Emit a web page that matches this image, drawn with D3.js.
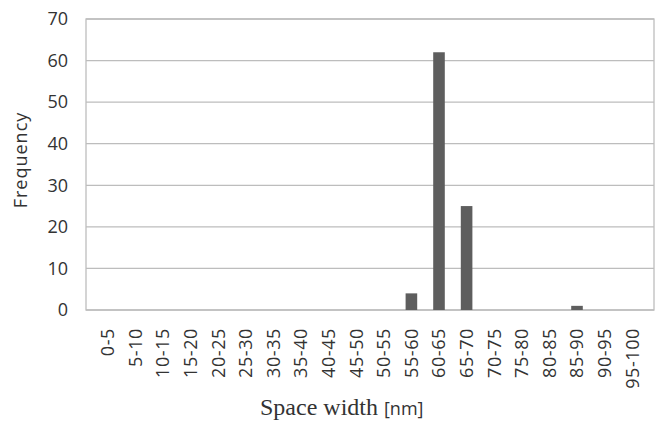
<!DOCTYPE html>
<html>
<head>
    <script src="https://d3js.org/d3.v7.min.js"></script>
    <style>
        body { margin: 0; background: #fff; font-family: "Open Sans", sans-serif; }
        .grid line { stroke: #bdbdbd; stroke-width: 1.3px; }
        .axis text { fill: #333; font-family: "Open Sans", sans-serif; }
        .axis-title { fill: #333; }
    </style>
</head>
<body>
<script>
    // bins and counts
    var bins = ["0-5", "5-10", "10-15", "15-20", "20-25", "25-30", "30-35", "35-40", "40-45", "45-50",
        "50-55", "55-60", "60-65", "65-70", "70-75", "75-80", "80-85", "85-90", "90-95", "95-100"];
    var counts = [0, 0, 0, 0, 0, 0, 0, 0, 0, 0, 0, 4, 62, 25, 0, 0, 0, 1, 0, 0];
    var yTicks = [0, 10, 20, 30, 40, 50, 60, 70];

    var margin = { top: 19, right: 8, bottom: 111, left: 86 },
        width = 662 - margin.left - margin.right,
        height = 421 - margin.top - margin.bottom;

    var svg = d3.select("body").append("svg")
        .attr("width", 662)
        .attr("height", 421);

    var g = svg.append("g")
        .attr("transform", "translate(" + margin.left + "," + margin.top + ")");

    var x = d3.scaleBand().domain(bins).range([0, width]).padding(0.58);
    var y = d3.scaleLinear().domain([0, 70]).range([height, 0]);

    // gridlines
    g.append("g")
        .attr("class", "grid")
        .selectAll("line")
        .data(yTicks)
        .enter().append("line")
        .attr("x1", 0)
        .attr("x2", width)
        .attr("y1", function(d) { return y(d); })
        .attr("y2", function(d) { return y(d); });

    // plot border
    g.append("rect")
        .attr("width", width)
        .attr("height", height)
        .attr("fill", "none")
        .attr("stroke", "#bdbdbd")
        .attr("stroke-width", 1.3);

    // bars
    g.selectAll(".bar")
        .data(counts)
        .enter().append("rect")
        .attr("class", "bar")
        .attr("x", function(d, i) { return x(bins[i]); })
        .attr("width", x.bandwidth())
        .attr("y", function(d) { return y(d); })
        .attr("height", function(d) { return height - y(d); })
        .attr("fill", "#5e5e5e");

    // y axis
    var yAxis = g.append("g")
        .attr("class", "axis")
        .call(d3.axisLeft(y).tickValues(yTicks).tickSize(0).tickPadding(18));
    yAxis.select(".domain").remove();
    yAxis.selectAll("text").style("font-size", "18px");

    // x axis
    var xAxis = g.append("g")
        .attr("class", "axis")
        .attr("transform", "translate(0," + height + ")")
        .call(d3.axisBottom(x).tickSize(0));
    xAxis.select(".domain").remove();
    xAxis.selectAll("text")
        .attr("transform", "rotate(-90)")
        .attr("x", -18)
        .attr("y", 0)
        .attr("dy", "0.35em")
        .style("font-size", "18px")
        .style("letter-spacing", "0.6px")
        .style("text-anchor", "end");

    // axis titles
    svg.append("text")
        .attr("class", "axis-title")
        .attr("transform", "translate(27,160) rotate(-90)")
        .attr("text-anchor", "middle")
        .style("font-size", "18px")
        .style("letter-spacing", "1px")
        .text("Frequency");

    var xt = svg.append("text")
        .attr("class", "axis-title")
        .attr("x", 260)
        .attr("y", 415)
        .attr("text-anchor", "start");
    xt.append("tspan")
        .style("font-family", "'Liberation Serif', serif")
        .style("font-size", "24px")
        .text("Space width ");
    xt.append("tspan")
        .style("font-size", "18px")
        .text("[nm]");
</script>
</body>
</html>
